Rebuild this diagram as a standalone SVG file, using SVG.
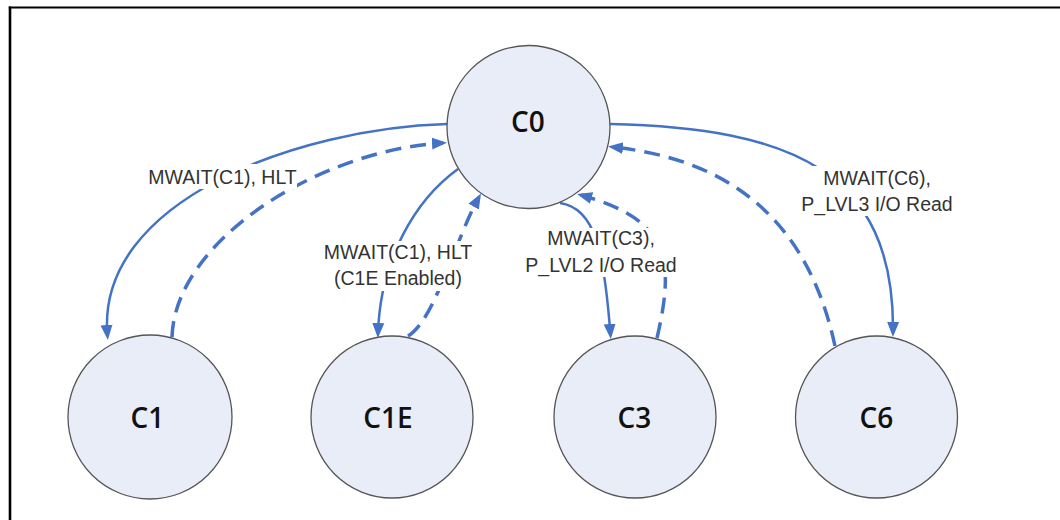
<svg xmlns="http://www.w3.org/2000/svg" width="1060" height="520" viewBox="0 0 1060 520">
  <style>
    .node circle { fill: #e8edf7; stroke: #555; stroke-width: 1.3; }
    .node text { font-family: "Open Sans", "Liberation Sans", sans-serif; font-weight: 600; font-size: 28px; fill: #111; text-anchor: middle; }
    .edge { fill: none; stroke: #4472c4; }
    .solid { stroke-width: 2.5; marker-end: url(#arrowS); }
    .dashed { stroke-width: 3.5; stroke-dasharray: 16 9; marker-end: url(#arrowD); }
    .lbl rect { fill: #ffffff; }
    .lbl text { font-family: "Liberation Sans", Arial, sans-serif; font-size: 19.5px; fill: #333; text-anchor: middle; }
  </style>
  <defs>
    <marker id="arrowS" markerUnits="userSpaceOnUse" markerWidth="16" markerHeight="14" viewBox="0 0 16 14" refX="11" refY="7" orient="auto">
      <path d="M0,1 L15,7 L0,13 z" fill="#4472c4"/>
    </marker>
    <marker id="arrowD" markerUnits="userSpaceOnUse" markerWidth="16" markerHeight="14" viewBox="0 0 16 14" refX="11" refY="7" orient="auto">
      <path d="M0,1 L15,7 L0,13 z" fill="#4472c4"/>
    </marker>
  </defs>

  <rect x="0" y="0" width="1060" height="520" fill="#ffffff"/>
  <g id="frame" stroke="#000" fill="none">
    <line x1="8.8" y1="7.5" x2="1060" y2="7.5" stroke-width="2.2"/>
    <line x1="10" y1="6.5" x2="10" y2="520" stroke-width="2.6"/>
  </g>

  <g id="connectors">
    <!-- C0 -> C1 -->
    <path class="edge solid" d="M447,124 C300,128 95,200 107.5,336"/>
    <!-- C1 -> C0 -->
    <path class="edge dashed" d="M172,337 C175,240 320,150 443,143"/>
    <!-- C0 -> C1E -->
    <path class="edge solid" d="M458,169 C415,200 380,260 378,334"/>
    <!-- C1E -> C0 -->
    <path class="edge dashed" d="M408,336 C435,320 455,240 479,197"/>
    <!-- C0 -> C3 -->
    <path class="edge solid" d="M560,203 C595,208 604,250 610.5,335"/>
    <!-- C3 -> C0 -->
    <path class="edge dashed" d="M657,338 C675,260 670,220 581,195"/>
    <!-- C0 -> C6 -->
    <path class="edge solid" d="M610,124 C790,128 895,170 893,333"/>
    <!-- C6 -> C0 -->
    <path class="edge dashed" d="M835,346 C810,230 740,160 612,147"/>
  </g>

  <g id="labels">
    <g class="lbl" id="lbl-c0-c1">
      <rect x="147" y="164" width="150" height="25"/>
      <text x="222.5" y="184">MWAIT(C1), HLT</text>
    </g>
    <g class="lbl" id="lbl-c0-c1e">
      <rect x="321" y="241" width="154" height="50"/>
      <text x="398" y="259">MWAIT(C1), HLT</text>
      <text x="398" y="285">(C1E Enabled)</text>
    </g>
    <g class="lbl" id="lbl-c0-c3">
      <rect x="520" y="228" width="162" height="49"/>
      <text x="601" y="245">MWAIT(C3),</text>
      <text x="601" y="272">P_LVL2 I/O Read</text>
    </g>
    <g class="lbl" id="lbl-c0-c6">
      <rect x="795" y="166" width="163" height="50"/>
      <text x="877" y="185">MWAIT(C6),</text>
      <text x="877" y="211">P_LVL3 I/O Read</text>
    </g>
  </g>

  <g id="node-C0" class="node">
    <circle cx="528.5" cy="127" r="81.5"/>
    <text x="528" y="132">C0</text>
  </g>
  <g id="node-C1" class="node">
    <circle cx="150" cy="417" r="82"/>
    <text x="147.5" y="428">C1</text>
  </g>
  <g id="node-C1E" class="node">
    <circle cx="392" cy="417" r="81"/>
    <text x="388" y="428">C1E</text>
  </g>
  <g id="node-C3" class="node">
    <circle cx="635" cy="417" r="81"/>
    <text x="634.5" y="428">C3</text>
  </g>
  <g id="node-C6" class="node">
    <circle cx="876.5" cy="417" r="81"/>
    <text x="876.5" y="428">C6</text>
  </g>
</svg>
